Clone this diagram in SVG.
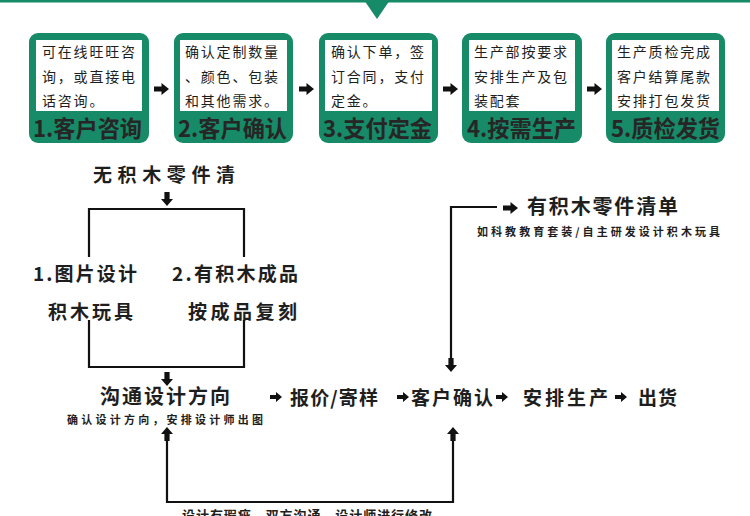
<svg xmlns="http://www.w3.org/2000/svg" xmlns:xlink="http://www.w3.org/1999/xlink" width="750" height="516" viewBox="0 0 750 516">
<style>
text{font-family:"Noto Sans CJK SC","Liberation Sans",sans-serif;fill:#1e1e1e}
.body{font-size:14px;letter-spacing:1.8px}
.title{font-size:23px;font-weight:bold;fill:#262626}
.big{font-size:19px;font-weight:bold}
.small{font-size:11px;font-weight:bold}
.box{fill:#178a67}
.inner{fill:#fff}
.line{fill:none;stroke:#111;stroke-width:2.2}
.ar{fill:#111}
</style>
<defs>
<path id="rarr" d="M0,-2.6 H7.5 V-6 L15,0 L7.5,6 V2.6 H0 Z"/>
<path id="rarrs" d="M0,-2 H6 V-5 L12,0 L6,5 V2 H0 Z"/>
<path id="darr" d="M-2.6,0 V7 H-6 L0,14 L6,7 H2.6 V0 Z"/>
</defs>
<rect x="0" y="0" width="750" height="2.5" fill="#178a67"/>
<path d="M364,0 H390 L377,19 Z" fill="#178a67"/>

<g id="step1">
<rect class="box" x="29" y="33" width="120" height="110" rx="9"/>
<rect class="inner" x="36" y="40" width="106" height="71"/>
<text class="body" x="42" y="57">可在线旺旺咨</text>
<text class="body" x="42" y="82">询，或直接电</text>
<text class="body" x="42" y="106">话咨询。</text>
<text class="title" x="33" y="137" textLength="109" lengthAdjust="spacingAndGlyphs">1.客户咨询</text>
</g>
<g id="step2">
<rect class="box" x="174" y="33" width="119" height="110" rx="9"/>
<rect class="inner" x="180" y="40" width="107" height="71"/>
<text class="body" x="185" y="57">确认定制数量</text>
<text class="body" x="185" y="82">、颜色、包装</text>
<text class="body" x="185" y="106">和其他需求。</text>
<text class="title" x="178" y="137" textLength="109" lengthAdjust="spacingAndGlyphs">2.客户确认</text>
</g>
<g id="step3">
<rect class="box" x="319" y="33" width="119" height="110" rx="9"/>
<rect class="inner" x="325" y="40" width="107" height="71"/>
<text class="body" x="331" y="57">确认下单，签</text>
<text class="body" x="331" y="82">订合同，支付</text>
<text class="body" x="331" y="106">定金。</text>
<text class="title" x="323" y="137" textLength="109" lengthAdjust="spacingAndGlyphs">3.支付定金</text>
</g>
<g id="step4">
<rect class="box" x="462" y="33" width="120" height="110" rx="9"/>
<rect class="inner" x="469" y="40" width="106" height="71"/>
<text class="body" x="474" y="57">生产部按要求</text>
<text class="body" x="474" y="82">安排生产及包</text>
<text class="body" x="474" y="106">装配套</text>
<text class="title" x="467" y="137" textLength="109" lengthAdjust="spacingAndGlyphs">4.按需生产</text>
</g>
<g id="step5">
<rect class="box" x="606" y="33" width="119" height="110" rx="9"/>
<rect class="inner" x="612" y="40" width="107" height="71"/>
<text class="body" x="617" y="57">生产质检完成</text>
<text class="body" x="617" y="82">客户结算尾款</text>
<text class="body" x="617" y="106">安排打包发货</text>
<text class="title" x="611" y="137" textLength="109" lengthAdjust="spacingAndGlyphs">5.质检发货</text>
</g>

<g id="n-nolist"><text class="big" x="93" y="182" textLength="142" lengthAdjust="spacing">无积木零件清</text></g>
<g id="n-design"><text class="big" x="33" y="281" textLength="104" lengthAdjust="spacing">1.图片设计</text><text class="big" x="48" y="319" textLength="85" lengthAdjust="spacing">积木玩具</text></g>
<g id="n-copy"><text class="big" x="172" y="281" textLength="126" lengthAdjust="spacing">2.有积木成品</text><text class="big" x="188" y="319" textLength="109" lengthAdjust="spacing">按成品复刻</text></g>
<g id="n-communicate"><text class="big" style="font-size:20px" x="100" y="404" textLength="130" lengthAdjust="spacing">沟通设计方向</text><text class="small" x="67" y="424" textLength="196" lengthAdjust="spacing">确认设计方向，安排设计师出图</text></g>
<g id="n-quote"><text class="big" x="290" y="405" textLength="88" lengthAdjust="spacing">报价/寄样</text></g>
<g id="n-confirm"><text class="big" x="411" y="405" textLength="82" lengthAdjust="spacing">客户确认</text></g>
<g id="n-produce"><text class="big" x="523" y="405" textLength="85" lengthAdjust="spacing">安排生产</text></g>
<g id="n-ship"><text class="big" x="638" y="405" textLength="39" lengthAdjust="spacing">出货</text></g>
<g id="n-haslist"><text class="big" style="font-size:20px" x="527" y="214" textLength="151" lengthAdjust="spacing">有积木零件清单</text><text class="small" x="477" y="236" textLength="243" lengthAdjust="spacing">如科教教育套装/自主研发设计积木玩具</text></g>
<g id="n-feedback"><text class="small" style="font-size:13px" x="182" y="520" textLength="250" lengthAdjust="spacing">设计有瑕疵，双方沟通，设计师进行修改</text></g>

<g id="connectors">
<use href="#rarr" class="ar" x="154" y="89"/>
<use href="#rarr" class="ar" x="299" y="89"/>
<use href="#rarr" class="ar" x="443" y="89"/>
<use href="#rarr" class="ar" x="587" y="89"/>
<use href="#darr" class="ar" x="167" y="192"/>
<path class="line" d="M89,257 V209 H244 V257"/>
<path class="line" d="M89,320 V367 H244 V320"/>
<use href="#darr" class="ar" x="167" y="372"/>
<use href="#darr" class="ar" transform="translate(167,441) scale(1,-1)"/>
<path class="line" d="M167,440 V502 H453 V440"/>
<use href="#darr" class="ar" transform="translate(453,441) scale(1,-1)"/>
<path class="line" d="M451,358 V207 H497"/>
<use href="#darr" class="ar" x="451" y="358"/>
<use href="#rarr" class="ar" x="503" y="208"/>
<use href="#rarrs" class="ar" x="270" y="397"/>
<use href="#rarrs" class="ar" x="397" y="397"/>
<use href="#rarrs" class="ar" x="496" y="397"/>
<use href="#rarrs" class="ar" x="615" y="397"/>
</g>
</svg>
